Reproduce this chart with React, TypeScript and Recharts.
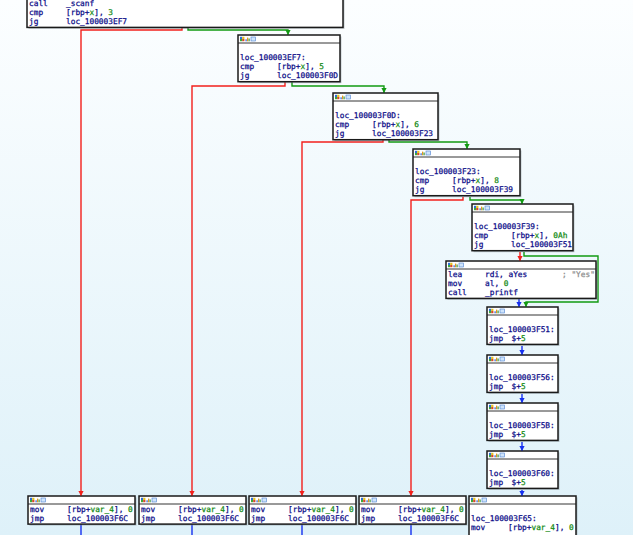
import React from 'react'
import { ComposedChart, XAxis, YAxis, Line, Scatter, ReferenceArea } from 'recharts'

// graph layout in screen units (1 unit = 1 px)
type Row = string[]
type Block = { id: string; x: number; y: number; w: number; rows: Row[] }

const blocks: Block[] = [
  { id: 'top', x: 27, y: -10, w: 316, rows: [['call', '_scanf'], ['cmp', '[rbp+x], 3'], ['jg', 'loc_100003EF7']] },
  { id: 'ef7', x: 238, y: 35, w: 102, rows: [[], ['loc_100003EF7:'], ['cmp', '[rbp+x], 5'], ['jg', 'loc_100003F0D']] },
  { id: 'f0d', x: 333, y: 93, w: 105, rows: [[], ['loc_100003F0D:'], ['cmp', '[rbp+x], 6'], ['jg', 'loc_100003F23']] },
  { id: 'f23', x: 413, y: 149, w: 107, rows: [[], ['loc_100003F23:'], ['cmp', '[rbp+x], 8'], ['jg', 'loc_100003F39']] },
  { id: 'f39', x: 472, y: 204, w: 101, rows: [[], ['loc_100003F39:'], ['cmp', '[rbp+x], 0Ah'], ['jg', 'loc_100003F51']] },
  { id: 'yes', x: 446, y: 261, w: 150, rows: [['lea', 'rdi, aYes', '; "Yes"'], ['mov', 'al, 0'], ['call', '_printf']] },
  { id: 'f51', x: 487, y: 307, w: 71, rows: [[], ['loc_100003F51:'], ['jmp', '$+5']] },
  { id: 'f56', x: 487, y: 355, w: 71, rows: [[], ['loc_100003F56:'], ['jmp', '$+5']] },
  { id: 'f5b', x: 487, y: 403, w: 71, rows: [[], ['loc_100003F5B:'], ['jmp', '$+5']] },
  { id: 'f60', x: 487, y: 451, w: 71, rows: [[], ['loc_100003F60:'], ['jmp', '$+5']] },
  { id: 'n1', x: 28, y: 496, w: 107, rows: [['mov', '[rbp+var_4], 0'], ['jmp', 'loc_100003F6C']] },
  { id: 'n2', x: 139, y: 496, w: 107, rows: [['mov', '[rbp+var_4], 0'], ['jmp', 'loc_100003F6C']] },
  { id: 'n3', x: 249, y: 496, w: 107, rows: [['mov', '[rbp+var_4], 0'], ['jmp', 'loc_100003F6C']] },
  { id: 'n4', x: 359, y: 496, w: 107, rows: [['mov', '[rbp+var_4], 0'], ['jmp', 'loc_100003F6C']] },
  { id: 'f65', x: 469, y: 496, w: 107, rows: [[], ['loc_100003F65:'], ['mov', '[rbp+var_4], 0'], []] },
]

type Kind = 'no' | 'yes' | 'flow'
type Pt = { x: number; y: number }
type Edge = { kind: Kind; pts: Pt[]; arrow: boolean }

const edges: Edge[] = [
  { kind: 'no', arrow: true, pts: [{ x: 182, y: 26 }, { x: 182, y: 30 }, { x: 81, y: 30 }, { x: 81, y: 496 }] },
  { kind: 'yes', arrow: true, pts: [{ x: 188, y: 26 }, { x: 188, y: 30 }, { x: 288, y: 30 }, { x: 288, y: 35 }] },
  { kind: 'no', arrow: true, pts: [{ x: 285, y: 82 }, { x: 285, y: 86 }, { x: 192, y: 86 }, { x: 192, y: 496 }] },
  { kind: 'yes', arrow: true, pts: [{ x: 292, y: 82 }, { x: 292, y: 86 }, { x: 384, y: 86 }, { x: 384, y: 93 }] },
  { kind: 'no', arrow: true, pts: [{ x: 383, y: 138 }, { x: 383, y: 142 }, { x: 302, y: 142 }, { x: 302, y: 496 }] },
  { kind: 'yes', arrow: true, pts: [{ x: 389, y: 138 }, { x: 389, y: 142 }, { x: 467, y: 142 }, { x: 467, y: 149 }] },
  { kind: 'no', arrow: true, pts: [{ x: 463, y: 197 }, { x: 463, y: 200 }, { x: 411, y: 200 }, { x: 411, y: 496 }] },
  { kind: 'yes', arrow: true, pts: [{ x: 470, y: 197 }, { x: 470, y: 200 }, { x: 522, y: 200 }, { x: 522, y: 204 }] },
  { kind: 'no', arrow: true, pts: [{ x: 520, y: 252 }, { x: 520, y: 261 }] },
  { kind: 'yes', arrow: true, pts: [{ x: 524, y: 252 }, { x: 524, y: 256 }, { x: 598, y: 256 }, { x: 598, y: 302 }, { x: 526, y: 302 }, { x: 526, y: 307 }] },
  { kind: 'flow', arrow: true, pts: [{ x: 519, y: 298 }, { x: 519, y: 307 }] },
  { kind: 'flow', arrow: true, pts: [{ x: 522, y: 346 }, { x: 522, y: 355 }] },
  { kind: 'flow', arrow: true, pts: [{ x: 522, y: 394 }, { x: 522, y: 403 }] },
  { kind: 'flow', arrow: true, pts: [{ x: 522, y: 442 }, { x: 522, y: 451 }] },
  { kind: 'flow', arrow: true, pts: [{ x: 522, y: 490 }, { x: 522, y: 496 }] },
  { kind: 'flow', arrow: false, pts: [{ x: 81, y: 524 }, { x: 81, y: 540 }] },
  { kind: 'flow', arrow: false, pts: [{ x: 192, y: 524 }, { x: 192, y: 540 }] },
  { kind: 'flow', arrow: false, pts: [{ x: 302, y: 524 }, { x: 302, y: 540 }] },
  { kind: 'flow', arrow: false, pts: [{ x: 411, y: 524 }, { x: 411, y: 540 }] },
]

const EDGE_COLOR: Record<Kind, string> = { no: '#f2201c', yes: '#129a12', flow: '#1630f0' }
const HEADER = 8
const ROW = 9.3
const NAVY = '#0c0c88'
const GREEN = '#138a13'
const FONT = '"DejaVu Sans Mono", monospace'

const arrows = edges.filter(e => e.arrow).map(e => ({ ...e.pts[e.pts.length - 1], kind: e.kind }))

function Operand({ text }: { text: string }) {
  const parts = text.split(/(x(?=\])|var_4|0Ah|\b\d+\b)/g)
  return (
    <>
      {parts.map((p, i) => {
        const c = i % 2 === 1 ? GREEN : NAVY
        return <tspan key={i} fill={c} stroke={c}>{p}</tspan>
      })}
    </>
  )
}

function BlockShape(props: any) {
  const { cx, cy, payload } = props
  const b = payload as Block
  const h = HEADER + b.rows.length * ROW + 1.5
  return (
    <g>
      <rect x={cx + 1.5} y={cy + 1.5} width={b.w} height={h} fill="#7d8a90" opacity={0.45} />
      <rect x={cx} y={cy} width={b.w} height={h} fill="#fff" stroke="#1a1a1a" strokeWidth={1.5} />
      <line x1={cx} x2={cx + b.w} y1={cy + HEADER} y2={cy + HEADER} stroke="#1e1e1e" strokeWidth={0.9} />
      <g>
        <rect x={cx + 2} y={cy + 1.8} width={2.2} height={2.2} fill="#2b6fd8" />
        <rect x={cx + 4.2} y={cy + 1.8} width={2.2} height={2.2} fill="#e7c21c" />
        <rect x={cx + 2} y={cy + 4} width={2.2} height={2.2} fill="#3aa83a" />
        <rect x={cx + 4.2} y={cy + 4} width={2.2} height={2.2} fill="#d84a2a" />
        <rect x={cx + 7.5} y={cy + 4.3} width={1.2} height={2} fill="#2b5fd0" />
        <rect x={cx + 9} y={cy + 2.6} width={1.2} height={3.7} fill="#e29a20" />
        <rect x={cx + 10.5} y={cy + 3.5} width={1.2} height={2.8} fill="#3b9a3b" />
        <rect x={cx + 13} y={cy + 2} width={4.5} height={4} fill="#cfe4fb" stroke="#4a7fd0" strokeWidth={0.6} />
      </g>
      {b.rows.map((r, i) => {
        if (r.length === 0) return null
        const base = cy + HEADER + ROW * i + ROW / 2 + 2.9
        const col = r[0] === 'jmp' && r[1].startsWith('$') ? 24.5 : 39
        return (
          <text key={i} y={base} fontFamily={FONT} fontSize={7.8} fill={NAVY} stroke={NAVY} strokeWidth={0.25}>
            <tspan x={cx + 2}>{r[0]}</tspan>
            {r[1] !== undefined && (
              <tspan x={cx + col}>
                <Operand text={r[1]} />
              </tspan>
            )}
            {r[2] !== undefined && (
              <tspan x={cx + 116} fill="#8d8d8d" stroke="#8d8d8d">{r[2]}</tspan>
            )}
          </text>
        )
      })}
    </g>
  )
}

function ArrowShape(props: any) {
  const { cx, cy, payload } = props
  const c = EDGE_COLOR[payload.kind as Kind]
  return <path d={`M${cx - 2.6},${cy - 5} L${cx + 2.6},${cy - 5} L${cx},${cy} Z`} fill={c} />
}

export default function App() {
  return (
    <div style={{ width: 633, height: 535, overflow: 'hidden' }}>
      <style>{'body{margin:0}'}</style>
      <ComposedChart width={633} height={535} margin={{ top: 0, right: 0, bottom: 0, left: 0 }}>
        <defs>
          <linearGradient id="bg" x1="0" y1="0" x2="0" y2="1">
            <stop offset="0%" stopColor="#fcfeff" />
            <stop offset="100%" stopColor="#def1f9" />
          </linearGradient>
        </defs>
        <XAxis type="number" dataKey="x" domain={[0, 633]} hide allowDataOverflow />
        <YAxis type="number" dataKey="y" domain={[0, 535]} reversed hide allowDataOverflow />
        <ReferenceArea x1={0} x2={633} y1={0} y2={535} fill="url(#bg)" fillOpacity={1} stroke="none" ifOverflow="visible" />
        {edges.map((e, i) => (
          <Line
            key={i}
            data={e.pts}
            dataKey="y"
            type="linear"
            stroke={EDGE_COLOR[e.kind]}
            strokeWidth={1.4}
            dot={false}
            activeDot={false}
            isAnimationActive={false}
            legendType="none"
          />
        ))}
        <Scatter data={blocks} dataKey="y" shape={BlockShape} isAnimationActive={false} />
        <Scatter data={arrows} dataKey="y" shape={ArrowShape} isAnimationActive={false} />
      </ComposedChart>
    </div>
  )
}
